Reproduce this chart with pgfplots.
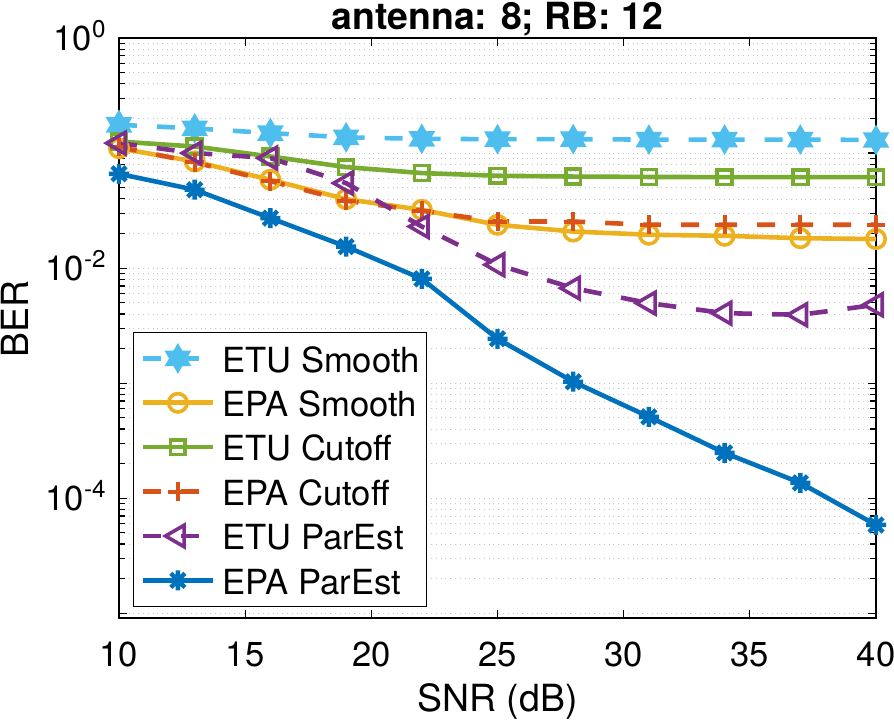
\documentclass[border=0pt]{standalone}
\usepackage{fontspec}
\setmainfont{TeX Gyre Heros}
\usepackage{pgfplots}
\pgfplotsset{compat=1.18}
\usetikzlibrary{plotmarks}

\definecolor{cETUs}{rgb}{0.3010,0.7450,0.9330}
\definecolor{cEPAs}{rgb}{0.9290,0.6940,0.1250}
\definecolor{cETUc}{rgb}{0.4660,0.6740,0.1880}
\definecolor{cEPAc}{rgb}{0.8500,0.3250,0.0980}
\definecolor{cETUp}{rgb}{0.4940,0.1840,0.5560}
\definecolor{cEPAp}{rgb}{0,0.4470,0.7410}

\pgfdeclareplotmark{hexagram}{%
  \pgfpathmoveto{\pgfqpointpolar{90}{\pgfplotmarksize}}%
  \pgfpathlineto{\pgfqpointpolar{210}{\pgfplotmarksize}}%
  \pgfpathlineto{\pgfqpointpolar{330}{\pgfplotmarksize}}%
  \pgfpathclose
  \pgfpathmoveto{\pgfqpointpolar{270}{\pgfplotmarksize}}%
  \pgfpathlineto{\pgfqpointpolar{30}{\pgfplotmarksize}}%
  \pgfpathlineto{\pgfqpointpolar{150}{\pgfplotmarksize}}%
  \pgfpathclose
  \pgfusepathqfillstroke
}
\pgfdeclareplotmark{matast}{%
  \pgfpathmoveto{\pgfqpointpolar{0}{\pgfplotmarksize}}\pgfpathlineto{\pgfqpointpolar{180}{\pgfplotmarksize}}%
  \pgfpathmoveto{\pgfqpointpolar{90}{\pgfplotmarksize}}\pgfpathlineto{\pgfqpointpolar{270}{\pgfplotmarksize}}%
  \pgfpathmoveto{\pgfqpointpolar{45}{\pgfplotmarksize}}\pgfpathlineto{\pgfqpointpolar{225}{\pgfplotmarksize}}%
  \pgfpathmoveto{\pgfqpointpolar{135}{\pgfplotmarksize}}\pgfpathlineto{\pgfqpointpolar{315}{\pgfplotmarksize}}%
  \pgfusepathqstroke
}

\pgfplotstableread{
x    etus   epas    etuc    epac    etup     epap
10   0.176  0.110   0.126   0.113   0.122    0.066
13   0.164  0.0845  0.114   0.083   0.100    0.048
16   0.149  0.0586  0.0934  0.057   0.0905   0.0272
19   0.137  0.0398  0.0755  0.0385  0.0548   0.0154
22   0.133  0.0321  0.067   0.0315  0.023    0.00807
25   0.132  0.0238  0.0635  0.0254  0.0107   0.00243
28   0.132  0.0208  0.0625  0.0254  0.0067   0.00103
31   0.131  0.0195  0.0620  0.0238  0.00496  0.00051
34   0.131  0.0191  0.0618  0.0238  0.00406  0.000248
37   0.131  0.0182  0.0618  0.0238  0.00393  0.000136
40   0.130  0.0179  0.0618  0.0238  0.0048   0.0000586
}\datatable

\begin{document}
\begin{tikzpicture}
\useasboundingbox (-59.5pt,-53pt) rectangle (387.5pt,309pt);
\begin{axis}[
  at={(0pt,0pt)}, anchor=south west,
  scale only axis, width=378.5pt, height=290pt,
  xmin=10, xmax=40, ymode=log, ymin=9.1e-6, ymax=1,
  xtick={10,15,...,40},
  ytick={1,1e-1,1e-2,1e-3,1e-4,1e-5},
  yticklabels={10\textsuperscript{0},,10\textsuperscript{-2},,10\textsuperscript{-4},},
  minor ytick={2e-5,3e-5,4e-5,5e-5,6e-5,7e-5,8e-5,9e-5,
               2e-4,3e-4,4e-4,5e-4,6e-4,7e-4,8e-4,9e-4,
               2e-3,3e-3,4e-3,5e-3,6e-3,7e-3,8e-3,9e-3,
               2e-2,3e-2,4e-2,5e-2,6e-2,7e-2,8e-2,9e-2,
               0.2,0.3,0.4,0.5,0.6,0.7,0.8,0.9},
  /pgf/number format/assume math mode=true,
  ymajorgrids, yminorgrids,
  major grid style={dotted, gray!45, line width=0.35pt},
  minor grid style={dotted, gray!45, line width=0.35pt},
  tick align=inside,
  major tick length=4pt, minor tick length=3pt,
  tick style={black, line width=0.6pt},
  axis line style={black, line width=0.8pt},
  ticklabel style={font=\fontsize{17.3}{20}\selectfont},
  xticklabel style={anchor=base, yshift=-24.1pt},
  yticklabel style={anchor=base east, inner sep=0pt, xshift=-6pt, yshift=-6.1pt},
  title={antenna: 8; RB: 12},
  every axis title shift=0pt,
  title style={font=\bfseries\fontsize{18.7}{22}\selectfont, at={(axis description cs:0.5,1)}, anchor=base, yshift=4.3pt},
  xlabel={SNR (dB)},
  xlabel style={font=\fontsize{18.7}{22}\selectfont, at={(axis description cs:0.5,0)}, anchor=base, yshift=-46.6pt},
  ylabel={BER},
  ylabel style={font=\fontsize{18.7}{22}\selectfont, at={(axis description cs:-0.12,0.515)}, anchor=base},
  legend style={at={(axis description cs:0.0185,0.019)}, anchor=south west,
     draw=black, line width=0.6pt, fill=white,
     inner xsep=3.5pt, inner ysep=3.9pt, row sep=4pt, column sep=3.5pt,
     font=\fontsize{17.3}{20}\selectfont,
     nodes={inner xsep=0pt, inner ysep=1pt, text height=15pt, text depth=1.2pt}},
  legend cell align=left,
  legend image code/.code={\draw[mark repeat=2,mark phase=2] plot coordinates {(0pt,0pt) (17.5pt,0pt) (35pt,0pt)};},
  every axis plot/.append style={line width=2.3pt},
]
\addplot[color=cETUs, dash pattern=on 9pt off 10pt, mark=hexagram, mark size=6.5pt, mark options={solid, fill=cETUs, line width=1.2pt}] table[x=x,y=etus] {\datatable};
\addlegendentry{ETU Smooth}
\addplot[color=cEPAs, solid, mark=o, mark size=4.6pt, mark options={solid, line width=1.8pt}] table[x=x,y=epas] {\datatable};
\addlegendentry{EPA Smooth}
\addplot[color=cETUc, solid, mark=square, mark size=3.7pt, mark options={solid, line width=1.8pt}] table[x=x,y=etuc] {\datatable};
\addlegendentry{ETU Cutoff}
\addplot[color=cEPAc, dash pattern=on 9pt off 10pt, mark=+, mark size=4.7pt, mark options={solid, line width=2pt}] table[x=x,y=epac] {\datatable};
\addlegendentry{EPA Cutoff}
\addplot[color=cETUp, dash pattern=on 9pt off 10pt, mark=triangle, mark size=6.2pt, mark options={solid, rotate=90, line width=1.8pt}] table[x=x,y=etup] {\datatable};
\addlegendentry{ETU ParEst}
\addplot[color=cEPAp, solid, mark=matast, mark size=5pt, mark options={solid, line width=2.2pt}] table[x=x,y=epap] {\datatable};
\addlegendentry{EPA ParEst}
\end{axis}
\end{tikzpicture}
\end{document}
